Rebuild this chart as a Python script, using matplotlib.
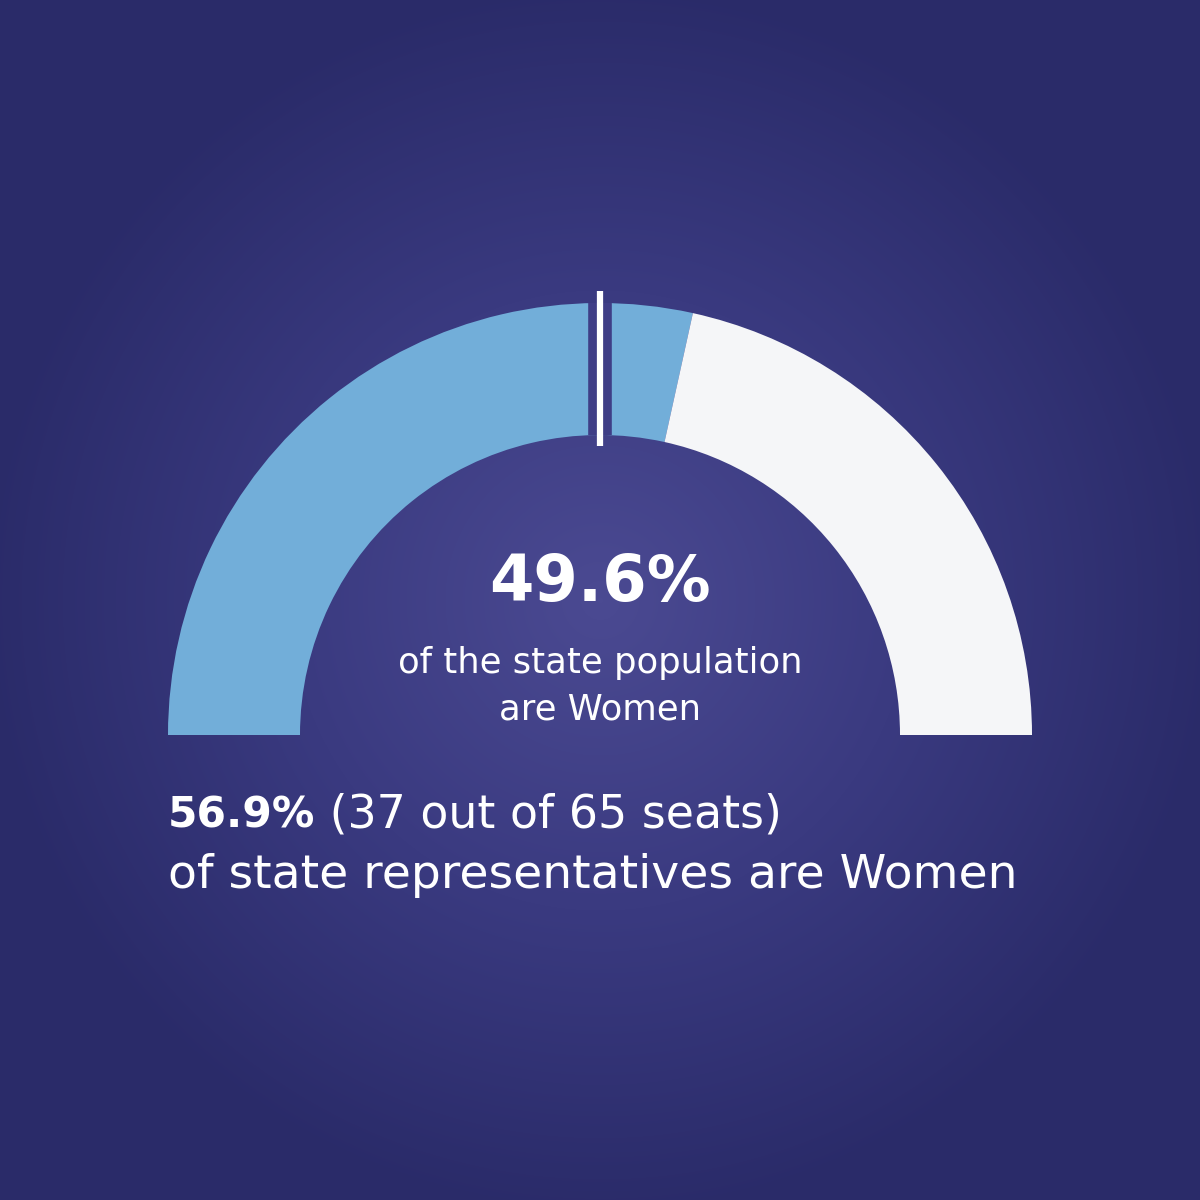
import numpy as np
import matplotlib
matplotlib.use('Agg')
import matplotlib.pyplot as plt
from matplotlib.colors import LinearSegmentedColormap

# data
seat_share = 56.9          # % of state representatives who are women
pop_share = 49.6           # % of state population who are women
parity = 50                # marker line on the gauge
seats_women = 37
seats_total = 65

BLUE = '#72aed9'
LIGHT = '#f5f6f8'
TEXT = 'white'
FONT = 'DejaVu Sans'

fig = plt.figure(figsize=(12, 12), dpi=100)
ax = fig.add_axes([0, 0, 1, 1])

# radial gradient background
yy, xx = np.mgrid[0:1200, 0:1200]
dist = np.hypot(xx - 600, yy - 600) / 620.0
dist = np.clip(dist, 0, 1)
bg = LinearSegmentedColormap.from_list('bg', ['#4b4a92', '#3a3a80', '#2a2b69'])
ax.imshow(dist, cmap=bg, extent=(0, 1200, 0, 1200), origin='upper', zorder=0)

# gauge: half donut drawn with pie, bottom half hidden
cx, cy = 600, 465
wedges, _ = ax.pie([seat_share, 100 - seat_share, 100], colors=[BLUE, LIGHT, 'none'],
                   startangle=180, counterclock=False, radius=432, center=(cx, cy),
                   wedgeprops=dict(width=132, linewidth=0))
for w in wedges:
    w.set_zorder(2)

# parity marker
ang = np.deg2rad(180 - parity / 100 * 180)
r0, r1 = 289, 444
xs = [cx + r0 * np.cos(ang), cx + r1 * np.cos(ang)]
ys = [cy + r0 * np.sin(ang), cy + r1 * np.sin(ang)]
ax.plot(xs, [cy + 300 * np.sin(ang), cy + 432 * np.sin(ang)],
        color='#3f3e86', lw=17, solid_capstyle='butt', zorder=3)
ax.plot(xs, ys, color='white', lw=4.5, solid_capstyle='butt', zorder=4)

# centre labels
ax.text(600, 1200 - 583, f'{pop_share}%', ha='center', va='center', color=TEXT,
        fontsize=46, fontweight='bold', family=FONT, zorder=5)
ax.text(600, 1200 - 663, 'of the state population', ha='center', va='center',
        color=TEXT, fontsize=25.5, family=FONT, zorder=5)
ax.text(600, 1200 - 710, 'are Women', ha='center', va='center',
        color=TEXT, fontsize=25.5, family=FONT, zorder=5)

# bottom labels
t = ax.text(168, 1200 - 815, f'{seat_share}%', ha='left', va='center', color=TEXT,
            fontsize=30.5, fontweight='bold', family=FONT, zorder=5)
ax.annotate(f' ({seats_women} out of {seats_total} seats)', xycoords=t, xy=(1, 0.5),
            ha='left', va='center', color=TEXT, fontsize=33, family=FONT, zorder=5)
ax.text(168, 1200 - 875, 'of state representatives are Women', ha='left', va='center',
        color=TEXT, fontsize=34, family=FONT, zorder=5)

ax.set_xlim(0, 1200)
ax.set_ylim(0, 1200)
ax.set_aspect('equal')
ax.axis('off')

fig.savefig('out.png', dpi=100)
